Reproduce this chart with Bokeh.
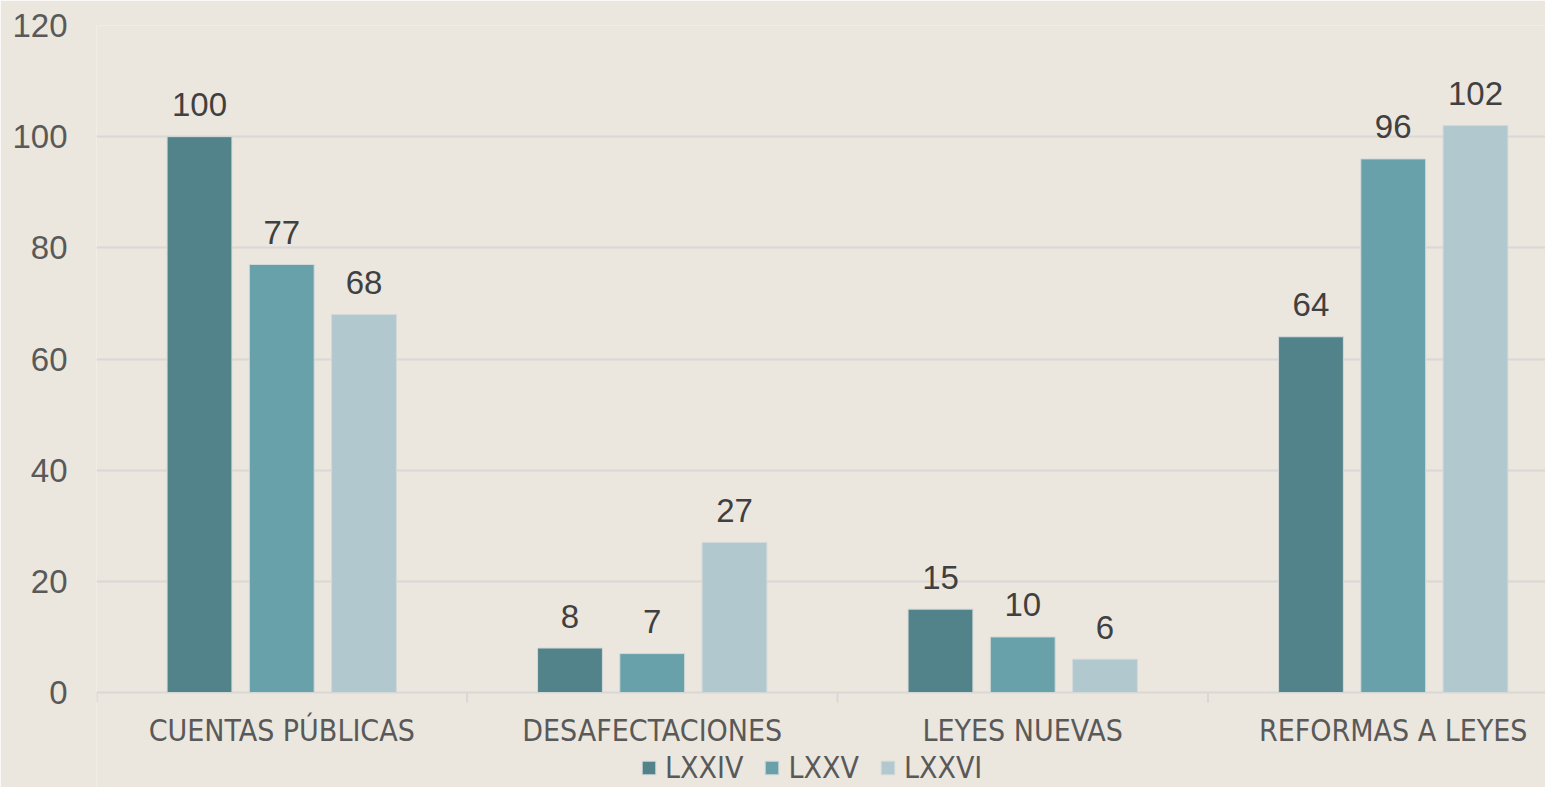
from bokeh.plotting import figure
from bokeh.models import Range1d, FixedTicker, Legend, LegendItem, ColumnDataSource
from bokeh.core.properties import value
from bokeh.embed import file_html
from bokeh.resources import INLINE

categories = ["CUENTAS PÚBLICAS", "DESAFECTACIONES", "LEYES NUEVAS", "REFORMAS A LEYES"]
series_names = ["LXXIV", "LXXV", "LXXVI"]
lxxiv = [100, 8, 15, 64]
lxxv = [77, 7, 10, 96]
lxxvi = [68, 27, 6, 102]
y_ticks = [0, 20, 40, 60, 80, 100, 120]
group_edges = [0, 1, 2, 3]

colors = ["#53838A", "#68A1AA", "#B2C8CF"]
bg = "#EBE7DE"
grid_c = "#D9D8D6"
num_font = "Liberation Sans"
cat_font = "DejaVu Sans Condensed"

# frame extends down to the bottom edge so the category band and legend live inside it
p = figure(width=1545, height=787, output_backend="svg", toolbar_location=None,
           x_range=Range1d(0, 3.911), y_range=Range1d(-17.09, 120),
           min_border_left=96, min_border_right=0, min_border_top=25, min_border_bottom=0,
           background_fill_color=bg, border_fill_color=bg, outline_line_color=None)

centers = [i + 0.5 for i in range(len(categories))]
offsets = [-0.222, 0.0, 0.222]
bar_w = 0.175
renderers = []
for name, vals, off, col in zip(series_names, [lxxiv, lxxv, lxxvi], offsets, colors):
    src = ColumnDataSource(dict(x=[c + off for c in centers], top=vals,
                                lbl=[str(v) for v in vals]))
    r = p.vbar(x="x", top="top", bottom=0, width=bar_w, source=src, fill_color=col,
               line_color="#D3D9D9", line_width=1)
    renderers.append(r)
    p.text(x="x", y="top", text="lbl", source=src, text_align="center",
           text_baseline="alphabetic", y_offset=-32, text_font=value(num_font),
           text_font_size="33px", text_color="#404040")

# y axis
p.yaxis.ticker = FixedTicker(ticks=y_ticks)
p.yaxis.axis_line_color = None
p.yaxis.major_tick_line_color = None
p.yaxis.minor_tick_line_color = None
p.yaxis.major_tick_out = 0
p.yaxis.major_label_standoff = 29
p.yaxis.major_label_text_font = num_font
p.yaxis.major_label_text_font_size = "33px"
p.yaxis.major_label_text_color = "#595959"

# grid
p.ygrid.ticker = FixedTicker(ticks=y_ticks)
p.ygrid.grid_line_color = grid_c
p.ygrid.grid_line_width = 2
p.xgrid.grid_line_color = None
p.xaxis.visible = False

# category axis band: boundary ticks and labels
p.segment(x0=group_edges, y0=[0] * 4, x1=group_edges, y1=[-1.8] * 4,
          line_color=grid_c, line_width=2)
p.text(x=centers, y=[0] * 4, text=categories, text_align="center",
       text_baseline="alphabetic", y_offset=38, text_font=value(cat_font),
       text_font_size="30px", text_color="#595959")

legend = Legend(items=[LegendItem(label=n, renderers=[r]) for n, r in zip(series_names, renderers)],
                location=(544, 2), orientation="horizontal",
                background_fill_alpha=0, border_line_color=None,
                glyph_width=17, glyph_height=17, label_standoff=8, spacing=20,
                padding=0, margin=0,
                label_text_font=cat_font, label_text_font_size="30px",
                label_text_color="#595959")
p.add_layout(legend)

open("out.html", "w").write(file_html(p, INLINE))
